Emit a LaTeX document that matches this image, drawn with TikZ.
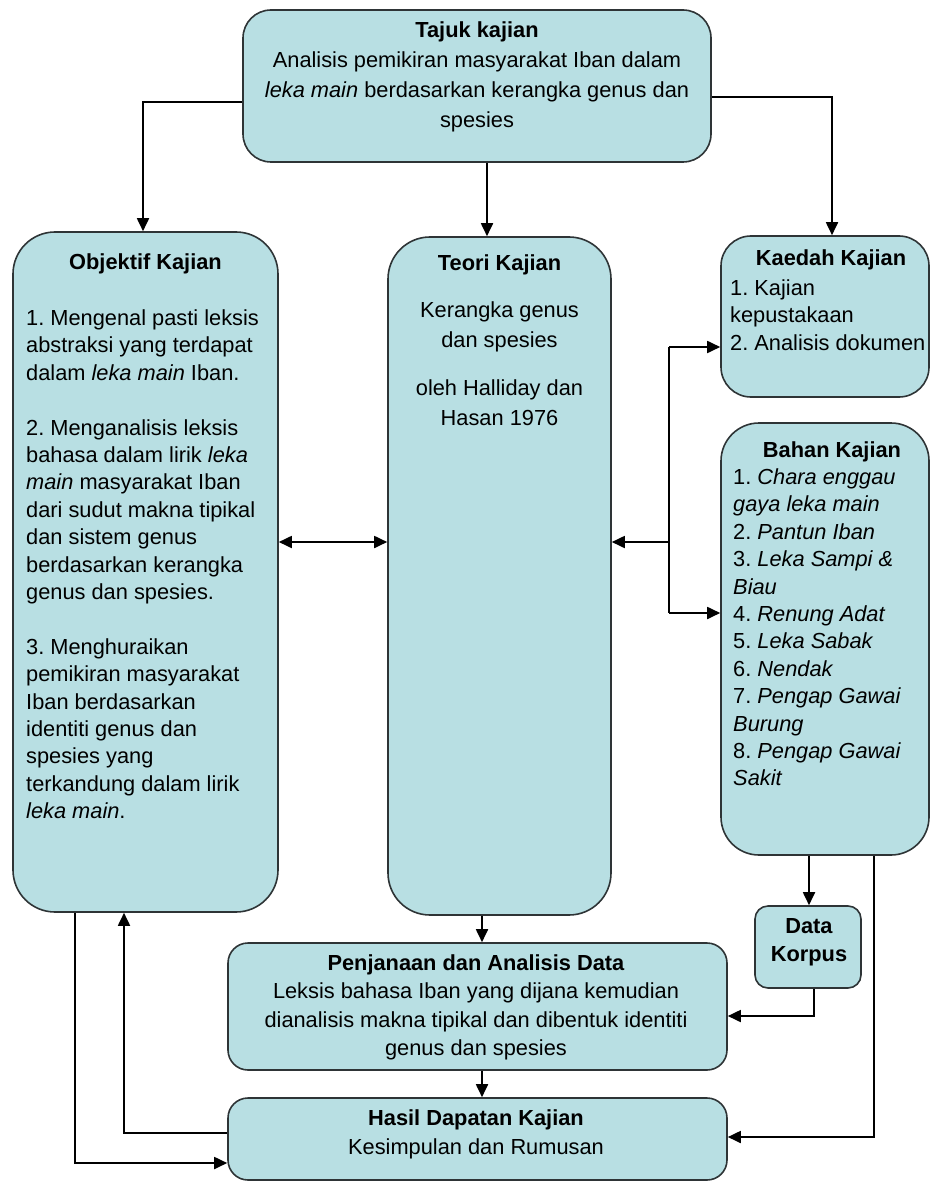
\documentclass[tikz,border=0pt]{standalone}
\usepackage{fontspec}
\setmainfont{Liberation Sans}
\frenchspacing
\usetikzlibrary{arrows.meta}
\definecolor{boxfill}{HTML}{B8DFE3}
\definecolor{boxline}{HTML}{2E3436}
\tikzset{
  box/.style={draw=boxline, line width=1.6pt, fill=boxfill, rectangle, inner sep=0pt},
  arr/.style={draw=black, line width=1.8pt, -{Triangle[length=13pt,width=12pt]}},
  darr/.style={draw=black, line width=1.8pt, {Triangle[length=13pt,width=12pt]}-{Triangle[length=13pt,width=12pt]}},
  ln/.style={draw=black, line width=1.8pt},
  txt/.style={inner sep=0pt, anchor=north, font=\fontsize{21.8}{27.4}\selectfont},
}
\begin{document}
\begin{tikzpicture}[x=1pt,y=-1pt]
\useasboundingbox (0,0) rectangle (932,1182);
% boxes
\node[box, rounded corners=28pt, minimum width=468pt, minimum height=152pt] (tajuk) at (477,86) {};
\node[box, rounded corners=42pt, minimum width=265pt, minimum height=680pt] (obj) at (145.5,572) {};
\node[box, rounded corners=42pt, minimum width=223pt, minimum height=678pt] (teori) at (499.5,576) {};
\node[box, rounded corners=30pt, minimum width=208pt, minimum height=161pt] (kaedah) at (825,316.5) {};
\node[box, rounded corners=38pt, minimum width=208pt, minimum height=432pt] (bahan) at (825,639) {};
\node[box, rounded corners=13pt, minimum width=106pt, minimum height=82pt] (korpus) at (808,947) {};
\node[box, rounded corners=20pt, minimum width=499pt, minimum height=127pt] (penj) at (477.5,1006.5) {};
\node[box, rounded corners=20pt, minimum width=499pt, minimum height=82pt] (hasil) at (477.5,1139) {};

% texts (anchor north = first baseline - 15.6)
\node[txt, align=center, font=\fontsize{21.8}{30}\selectfont] (tajukT) at (477,21.5)
  {\textbf{Tajuk kajian}\\Analisis pemikiran masyarakat Iban dalam\\\textit{leka main} berdasarkan kerangka genus dan\\spesies};
\node[txt] (objT) at (145.5,253.5) {\textbf{Objektif Kajian}};
\node[txt, align=left, anchor=north west] (objB) at (26,309.5)
  {1. Mengenal pasti leksis\\abstraksi yang terdapat\\dalam \textit{leka main} Iban.\\[27.4pt]
   2. Menganalisis leksis\\bahasa dalam lirik \textit{leka}\\\textit{main} masyarakat Iban\\dari sudut makna tipikal\\dan sistem genus\\berdasarkan kerangka\\genus dan spesies.\\[27.4pt]
   3. Menghuraikan\\pemikiran masyarakat\\Iban berdasarkan\\identiti genus dan\\spesies yang\\terkandung dalam lirik\\\textit{leka main}.};
\node[txt] (teoriT) at (499.5,254.5) {\textbf{Teori Kajian}};
\node[txt, align=center, font=\fontsize{21.8}{30}\selectfont] (teoriB) at (499.5,301.5)
  {Kerangka genus\\dan spesies\\[18pt]oleh Halliday dan\\Hasan 1976};
\node[txt] (kaedahT) at (831,249.5) {\textbf{Kaedah Kajian}};
\node[txt, align=left, anchor=north west] (kaedahB) at (730,279.5)
  {1. Kajian\\kepustakaan\\2. Analisis dokumen};
\node[txt] (bahanT) at (832,441.5) {\textbf{Bahan Kajian}};
\node[txt, align=left, anchor=north west] (bahanB) at (733,468.5)
  {1. \textit{Chara enggau}\\\textit{gaya leka main}\\2. \textit{Pantun Iban}\\3. \textit{Leka Sampi \&}\\\textit{Biau}\\4. \textit{Renung Adat}\\5. \textit{Leka Sabak}\\6. \textit{Nendak}\\7. \textit{Pengap Gawai}\\\textit{Burung}\\8. \textit{Pengap Gawai}\\\textit{Sakit}};
\node[txt, align=center, font=\fontsize{21.8}{28}\selectfont] (korpusT) at (809,918.5) {\textbf{Data}\\\textbf{Korpus}};
\node[txt, align=center, font=\fontsize{21.8}{28.3}\selectfont] (penjT) at (476,954.5)
  {\textbf{Penjanaan dan Analisis Data}\\Leksis bahasa Iban yang dijana kemudian\\dianalisis makna tipikal dan dibentuk identiti\\genus dan spesies};
\node[txt, align=center, font=\fontsize{21.8}{29}\selectfont] (hasilT) at (476,1109.5)
  {\textbf{Hasil Dapatan Kajian}\\Kesimpulan dan Rumusan};

% connectors
\draw[arr] (tajuk.west |- 0,102) -| (obj.north -| 143,0);
\draw[arr] (tajuk.south -| 487,0) -- (teori.north -| 487,0);
\draw[arr] (tajuk.east |- 0,97) -| (kaedah.north -| 832,0);
\draw[darr] (obj.east |- 0,542) -- (teori.west |- 0,542);
\coordinate (busT) at (669,347);
\coordinate (busB) at (669,613);
\draw[ln] (busT) -- (busB);
\draw[arr] (669,542) -- (teori.east |- 0,542);
\draw[arr] (busT) -- (kaedah.west |- busT);
\draw[arr] (busB) -- (bahan.west |- busB);
\draw[arr] (bahan.south -| 809,0) -- (korpus.north -| 809,0);
\draw[arr] (teori.south -| 482,0) -- (penj.north -| 482,0);
\draw[arr] (penj.south -| 482,0) -- (hasil.north -| 482,0);
\draw[arr] (korpus.south -| 814,0) |- (penj.east |- 0,1016);
\draw[arr] (bahan.south -| 874,0) |- (hasil.east |- 0,1137);
\draw[arr] (hasil.west |- 0,1133) -| (obj.south -| 124,0);
\draw[arr] (obj.south -| 75,0) |- (hasil.west |- 0,1163);
\end{tikzpicture}
\end{document}
